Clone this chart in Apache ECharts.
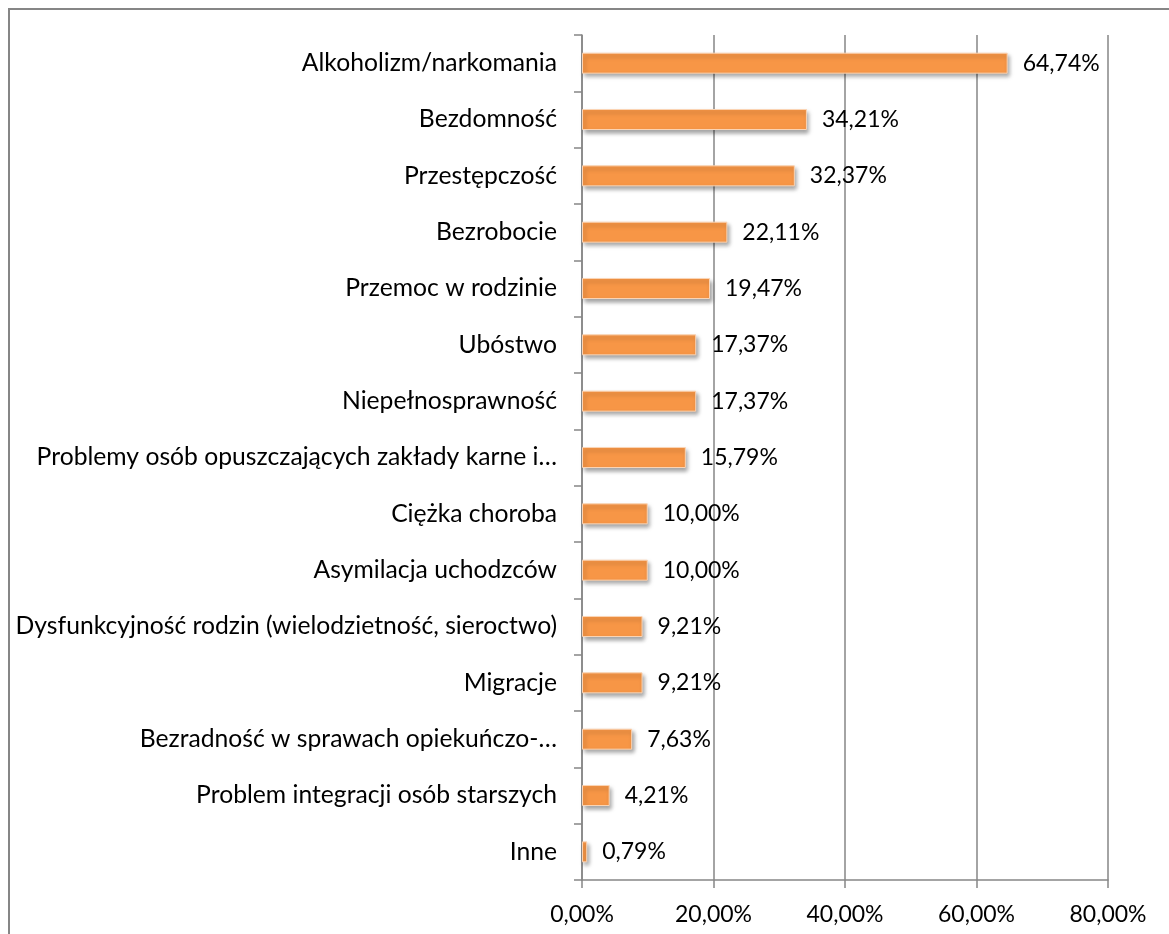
<!DOCTYPE html>
<html>
<head>
<meta charset="utf-8">
<script src="https://cdn.jsdelivr.net/npm/echarts@6/dist/echarts.min.js"></script>
<style>
  html, body { margin: 0; padding: 0; background: #fff; }
  #chart { width: 1169px; height: 934px; }
</style>
</head>
<body>
<div id="chart"></div>
<script>
// kategorie od góry do dołu
var categories = [
  'Alkoholizm/narkomania',
  'Bezdomność',
  'Przestępczość',
  'Bezrobocie',
  'Przemoc w rodzinie',
  'Ubóstwo',
  'Niepełnosprawność',
  'Problemy osób opuszczających zakłady karne i…',
  'Ciężka choroba',
  'Asymilacja uchodzców',
  'Dysfunkcyjność rodzin (wielodzietność, sieroctwo)',
  'Migracje',
  'Bezradność w sprawach opiekuńczo-…',
  'Problem integracji osób starszych',
  'Inne'
];
var values = [64.74, 34.21, 32.37, 22.11, 19.47, 17.37, 17.37, 15.79, 10.00, 10.00, 9.21, 9.21, 7.63, 4.21, 0.79];
var xTicks = [0, 20, 40, 60, 80];

function pct(v) {
  return v.toFixed(2).replace('.', ',') + '%';
}

var myChart = echarts.init(document.getElementById('chart'));
var font = 'Lato';
var fsize = 23;

var option = {
  animation: false,
  grid: {
    left: 582,
    right: 61,
    top: 35,
    bottom: 54
  },
  graphic: [{
    type: 'rect',
    shape: { x: 9, y: 9, width: 1300, height: 1100 },
    style: { fill: 'none', stroke: '#868686', lineWidth: 2 },
    silent: true
  }],
  xAxis: {
    type: 'value',
    min: xTicks[0],
    max: xTicks[xTicks.length - 1],
    interval: 20,
    axisLine: { show: true, lineStyle: { color: '#868686', width: 1.5 } },
    axisTick: { show: true, length: 8, lineStyle: { color: '#868686', width: 1.5 } },
    axisLabel: {
      margin: 23,
      fontFamily: font,
      fontSize: fsize,
      color: '#000',
      formatter: function (v) { return pct(v); }
    },
    splitLine: { show: true, lineStyle: { color: '#868686', width: 1.5 } }
  },
  yAxis: {
    type: 'category',
    inverse: true,
    data: categories,
    axisLine: { show: true, lineStyle: { color: '#868686', width: 1.5 } },
    axisTick: { show: true, length: 8, lineStyle: { color: '#868686', width: 1.5 } },
    axisLabel: {
      margin: 25,
      fontFamily: font,
      fontSize: 24.7,
      color: '#000'
    }
  },
  series: [{
    type: 'bar',
    data: values,
    barWidth: 21,
    itemStyle: {
      color: '#F79646',
      borderColor: '#FBD4B4',
      borderWidth: 1,
      shadowColor: 'rgba(0,0,0,0.35)',
      shadowBlur: 4,
      shadowOffsetX: 2,
      shadowOffsetY: 3
    },
    label: {
      show: true,
      position: 'right',
      distance: 15,
      fontFamily: font,
      fontSize: fsize,
      color: '#000',
      formatter: function (p) { return pct(p.value); }
    }
  }]
};

myChart.setOption(option);
</script>
</body>
</html>
